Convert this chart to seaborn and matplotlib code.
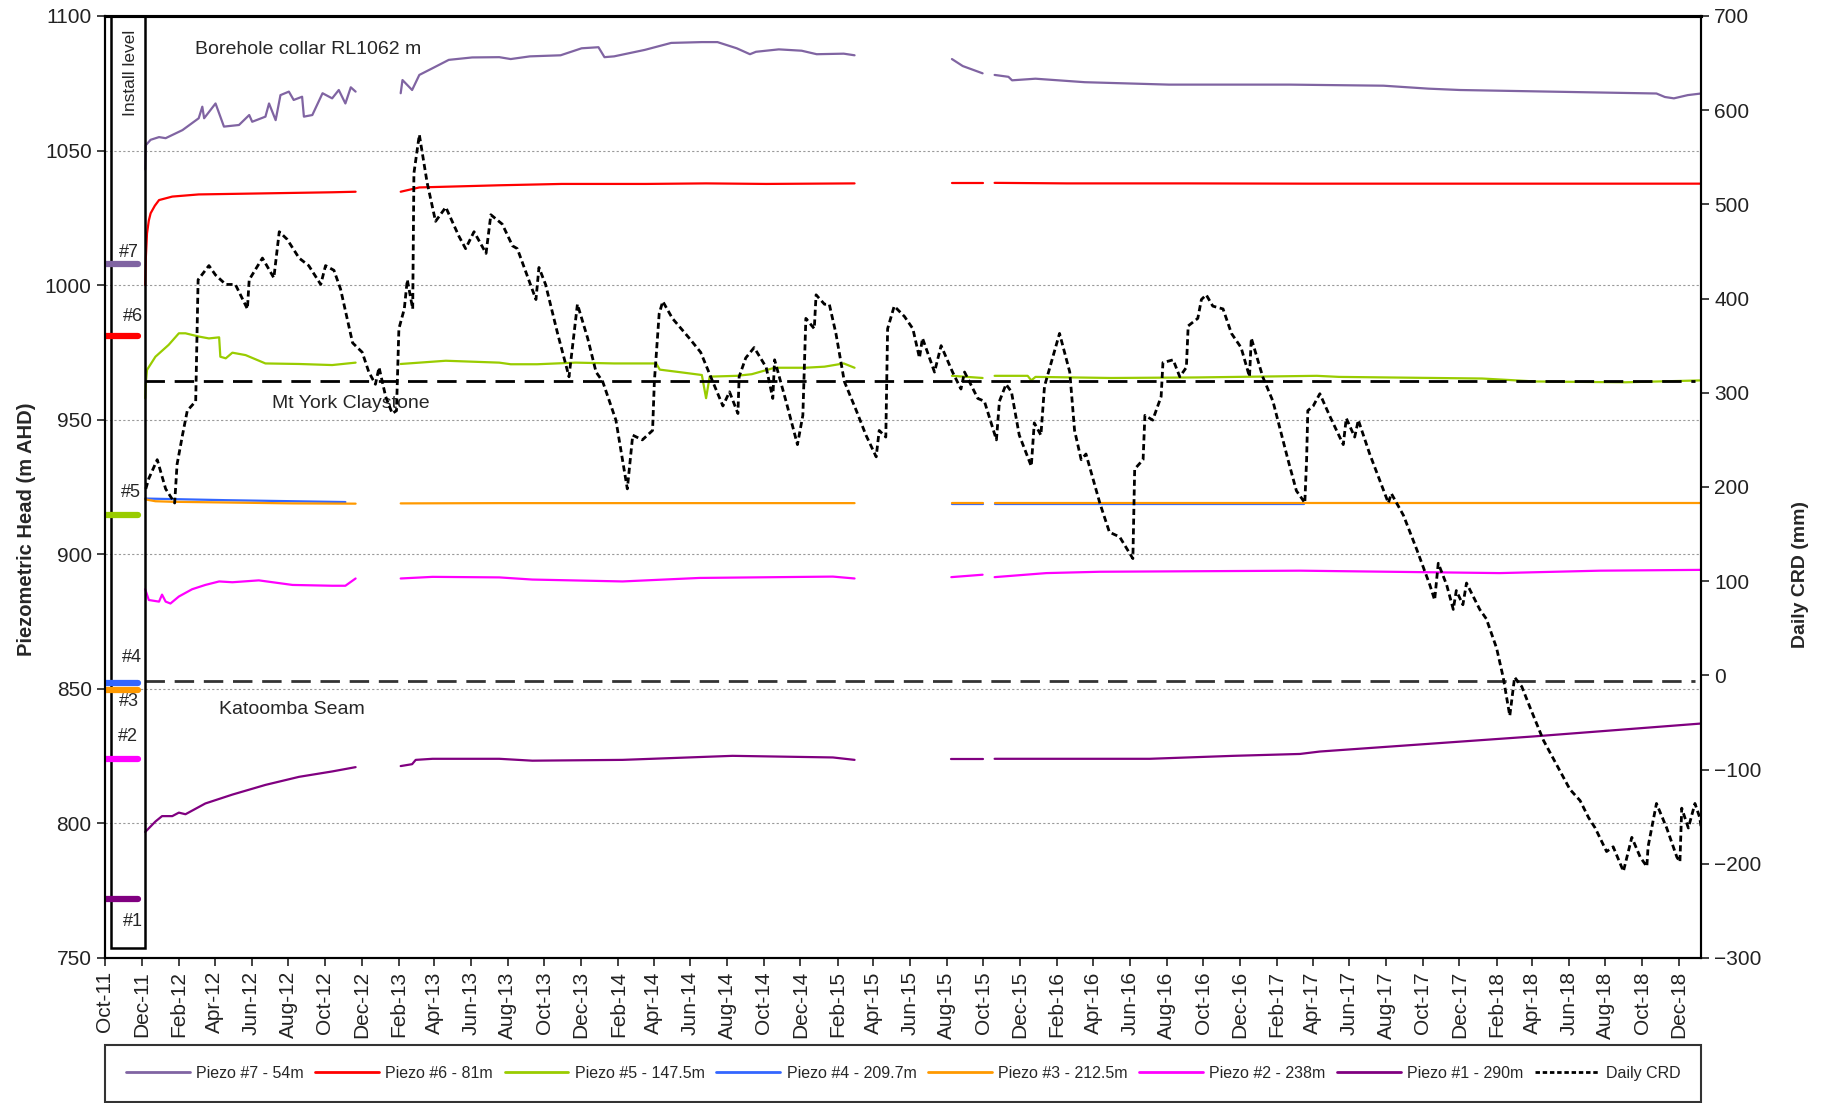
import numpy as np
import pandas as pd
import matplotlib
matplotlib.use("Agg")
import matplotlib.pyplot as plt
import matplotlib.dates as mdates
import seaborn as sns
from matplotlib.patches import Rectangle
from matplotlib.lines import Line2D

nan = np.nan

## Data (days counted from 1-Oct-2011, nan = logger gap)
START = pd.Timestamp("2011-10-01")
END_DAY = 2655
COLLAR_RL = 1062

piezo_names = ["Piezo #7 - 54m", "Piezo #6 - 81m", "Piezo #5 - 147.5m", "Piezo #4 - 209.7m",
               "Piezo #3 - 212.5m", "Piezo #2 - 238m", "Piezo #1 - 290m"]
piezo_tags = ["#7", "#6", "#5", "#4", "#3", "#2", "#1"]
piezo_depths = [54, 81, 147.5, 209.7, 212.5, 238, 290]
piezo_colors = ["#8064a2", "#ff0000", "#99cc00", "#3366ff", "#ff9900", "#ff00ff", "#800080"]

p7_day = [67, 68, 76, 90, 101, 129, 156, 162, 165, 184, 198, 223, 240, 245, 267, 273, 284, 292, 306, 314,
          328, 331, 345, 362, 378, 389, 400, 409, 417, nan,
          492, 495, 511, 523, 545, 572, 611, 656, 675, 707, 758, 793, 821, 831, 847, 898, 942, 993, 1019,
          1051, 1073, 1083, 1121, 1159, 1184, 1229, 1247, nan,
          1409, 1427, 1460, nan,
          1480, 1503, 1509, 1548, 1630, 1770, 1971, 2127, 2202, 2254, 2454, 2581, 2595, 2610, 2633, 2655]
p7_head = [1043, 1052, 1054, 1055, 1054.6, 1057.6, 1062, 1066.3, 1062, 1067.5, 1058.9, 1059.5, 1063.2, 1060.7,
           1062.6, 1067.5, 1061.3, 1070.6, 1071.9, 1068.8, 1070, 1062.6, 1063.2, 1071.3, 1069.4, 1072.5,
           1067.5, 1073.5, 1071.9, nan,
           1071.3, 1076.2, 1072.5, 1078.1, 1080.6, 1083.7, 1084.6, 1084.7, 1084.0, 1085, 1085.4, 1088, 1088.4,
           1084.7, 1085, 1087.4, 1090, 1090.3, 1090.3, 1088, 1085.8, 1086.7, 1087.6, 1087.1, 1085.8, 1086,
           1085.4, nan,
           1084, 1081.4, 1078.7, nan,
           1078.1, 1077.4, 1076.1, 1076.7, 1075.4, 1074.5, 1074.5, 1074.1, 1073, 1072.5, 1071.7, 1071.2,
           1069.9, 1069.4, 1070.6, 1071.2]

p6_day = [67, 68, 70, 73, 76, 83, 90, 112, 156, 267, 378, 417, nan,
          492, 523, 656, 760, 900, 1000, 1100, 1247, nan,
          1409, 1460, nan,
          1480, 1600, 1800, 2000, 2200, 2400, 2655]
p6_head = [1000, 1010, 1019.2, 1024, 1026.7, 1029.5, 1031.6, 1032.9, 1033.7, 1034.1, 1034.5, 1034.7, nan,
           1034.7, 1036.3, 1037.1, 1037.6, 1037.6, 1037.8, 1037.6, 1037.8, nan,
           1038.1, 1038.1, nan,
           1038, 1037.8, 1037.8, 1037.7, 1037.7, 1037.7, 1037.7]

p5_day = [67, 68, 70, 84, 106, 123, 134, 156, 173, 190, 192, 201, 212, 234, 267, 323, 378, 417, nan,
          492, 567, 656, 675, 719, 783, 847, 917, 923, 955, 993, 1000, 1006, 1051, 1076, 1114, 1165, 1197,
          1229, 1247, nan,
          1409, 1460, nan,
          1480, 1535, 1541, 1548, 1674, 1816, 2016, 2053, 2291, 2380, 2529, 2655]
p5_head = [958, 963.5, 968.5, 973.4, 977.8, 982.1, 982.1, 980.9, 980.2, 980.6, 973.4, 972.8, 974.9, 974,
           970.9, 970.7, 970.3, 971.2, nan,
           970.7, 971.9, 971.2, 970.6, 970.6, 971.2, 970.9, 970.9, 968.6, 967.7, 966.6, 958, 966, 966.3,
           966.9, 969.3, 969.3, 969.7, 970.9, 969.3, nan,
           966.3, 965.5, nan,
           966.3, 966.3, 964.6, 965.9, 965.5, 965.7, 966.3, 965.9, 965.3, 964.2, 963.9, 964.6]

p4_day = [67, 200, 400, nan, 1409, 1460, nan, 1480, 1995]
p4_head = [920.7, 920.1, 919.4, nan, 918.5, 918.5, nan, 918.5, 918.5]

p3_day = [67, 84, 112, 312, 417, nan, 492, 656, 1247, nan, 1409, 1460, nan, 1480, 2655]
p3_head = [920.4, 919.7, 919.5, 918.9, 918.8, nan, 918.9, 919.0, 919.0, nan, 919.1, 919.1, nan, 919.1, 919.1]

p2_day = [67, 73, 90, 95, 101, 109, 123, 145, 167, 190, 212, 256, 312, 378, 400, 417, nan,
          492, 545, 656, 711, 861, 989, 1211, 1247, nan,
          1408, 1460, nan,
          1480, 1566, 1655, 1988, 2320, 2487, 2655]
p2_head = [887, 883, 882.4, 885, 882.4, 881.7, 884.3, 887, 888.6, 889.9, 889.6, 890.3, 888.6, 888.3, 888.3,
           891, nan,
           891, 891.6, 891.4, 890.6, 889.9, 891.2, 891.7, 891, nan,
           891.5, 892.4, nan,
           891.5, 893, 893.5, 893.9, 893, 893.9, 894.2]

p1_day = [67, 84, 95, 112, 123, 134, 167, 212, 267, 323, 378, 417, nan,
          492, 511, 517, 545, 656, 711, 861, 1044, 1211, 1247, nan,
          1408, 1460, nan,
          1480, 1738, 1877, 1988, 2021, 2376, 2655]
p1_head = [796.8, 800.7, 802.7, 802.7, 804, 803.4, 807.4, 810.7, 814.3, 817.3, 819.3, 820.9, nan,
           821.3, 822, 823.6, 824, 824, 823.3, 823.6, 825.1, 824.5, 823.6, nan,
           824, 824, nan,
           824, 824, 825.1, 825.8, 826.7, 832.3, 837.1]

crd_day = [68, 73, 87, 101, 116, 120, 129, 137, 151, 155, 173, 184, 201, 217, 237, 240, 262, 281, 290, 303,
           323, 339, 359, 367, 381, 392, 412, 428, 439, 450, 456, 467, 478, 485, 489, 498, 503, 512, 514,
           523, 536, 550, 567, 589, 600, 614, 634, 642, 661, 678, 686, 717, 722, 733, 753, 772, 786, 803,
           817, 828, 850, 869, 878, 894, 911, 914, 922, 928, 944, 972, 991, 1011, 1028, 1039, 1053, 1055,
           1066, 1080, 1100, 1111, 1114, 1133, 1152, 1161, 1166, 1180, 1183, 1197, 1205, 1216, 1230, 1250,
           1266, 1283, 1288, 1299, 1302, 1313, 1330, 1344, 1355, 1360, 1380, 1391, 1410, 1424, 1430, 1452,
           1463, 1483, 1488, 1499, 1508, 1521, 1541, 1546, 1557, 1563, 1571, 1588, 1605, 1613, 1624, 1632,
           1655, 1671, 1688, 1710, 1713, 1727, 1730, 1743, 1757, 1760, 1777, 1788, 1799, 1802, 1818, 1824,
           1832, 1843, 1860, 1874, 1890, 1904, 1907, 1926, 1943, 1968, 1982, 1993, 1996, 1999, 2001, 2010,
           2021, 2037, 2060, 2065, 2079, 2085, 2104, 2135, 2140, 2160, 2182, 2204, 2212, 2218, 2232, 2243,
           2248, 2259, 2265, 2287, 2298, 2315, 2326, 2337, 2345, 2357, 2370, 2393, 2415, 2437, 2454, 2468,
           2479, 2498, 2509, 2526, 2540, 2554, 2565, 2567, 2581, 2598, 2615, 2620, 2623, 2634, 2645, 2653,
           2655]
crd_mm = [198, 209, 229, 198, 183, 224, 255, 281, 291, 420, 435, 425, 415, 415, 389, 420, 443, 422, 471, 463,
          443, 435, 415, 435, 430, 410, 353, 343, 322, 309, 327, 296, 278, 281, 368, 389, 420, 389, 533,
          574, 523, 482, 497, 466, 453, 471, 448, 489, 479, 456, 453, 399, 433, 415, 363, 317, 394, 358,
          322, 312, 271, 198, 255, 250, 260, 312, 384, 397, 379, 358, 343, 312, 286, 301, 278, 317,
          337, 348, 327, 294, 335, 291, 245, 276, 379, 368, 404, 394, 394, 363, 312, 281,
          255, 232, 260, 253, 368, 392, 381, 368, 337, 358, 322, 350, 322, 304, 322, 294,
          291, 250, 291, 309, 301, 255, 222, 268, 255, 307, 325, 363, 322, 260, 229, 235,
          183, 152, 147, 124, 219, 229, 276, 271, 296, 332, 335, 317, 327, 371, 379, 399,
          404, 392, 389, 363, 348, 317, 358, 317, 291, 229, 196, 186, 183, 229, 281, 286,
          299, 276, 245, 273, 253, 271, 235, 183, 193, 170, 134, 96, 80, 119, 96, 70,
          90, 75, 98, 70, 60, 29, -2, -43, -2, -12, -33, -69, -95, -121, -133, -151,
          -162, -187, -182, -208, -172, -193, -203, -182, -136, -162, -193, -198, -141, -162, -136, -151,
          -160]

horizon_names = ["Mt York Claystone", "Katoomba Seam"]
horizon_levels = [964.4, 853]
horizon_colors = ["black", "#333333"]

piezo_days = [p7_day, p6_day, p5_day, p4_day, p3_day, p2_day, p1_day]
piezo_heads = [p7_head, p6_head, p5_head, p4_head, p3_head, p2_head, p1_head]


def to_num(day):
    return mdates.date2num(START + pd.Timedelta(days=float(day)))


def series_frame(name, days, vals):
    d = pd.DataFrame({"day": days, "value": vals})
    d["seg"] = d["value"].isna().cumsum()
    d = d.dropna().copy()
    d["date"] = START + pd.to_timedelta(d["day"], unit="D")
    d["series"] = name
    d["unit"] = name + "_" + d["seg"].astype(str)
    return d


piezo = pd.concat([series_frame(n, dd, hh) for n, dd, hh in zip(piezo_names, piezo_days, piezo_heads)],
                  ignore_index=True)
crd = pd.DataFrame({"date": START + pd.to_timedelta(crd_day, unit="D"), "crd": crd_mm})

## Plot
sns.set_style("ticks")
plt.rcParams["font.family"] = ["Liberation Sans", "DejaVu Sans"]

fig = plt.figure(figsize=(18.28, 11.03), dpi=100)
ax = fig.add_axes([0.0574, 0.1315, 0.8731, 0.8540])

sns.lineplot(data=piezo, x="date", y="value", hue="series", units="unit", estimator=None,
             hue_order=piezo_names, palette=dict(zip(piezo_names, piezo_colors)),
             lw=1.6, legend=False, sort=False, ax=ax)

x0 = to_num(66)
x1 = to_num(2645)
for name, lev, col in zip(horizon_names, horizon_levels, horizon_colors):
    ax.hlines(lev, x0, x1, colors=col, lw=2, linestyles=(0, (7, 3.5)), zorder=3)

ax.set_xlim(to_num(0), to_num(END_DAY))
ax.set_ylim(750, 1100)
ax.set_yticks(range(750, 1101, 50))
ax.yaxis.grid(True, color="#9a9a9a", linestyle=(0, (2, 2)), lw=0.8)
ax.xaxis.grid(False)
ax.xaxis.set_major_locator(mdates.MonthLocator(bymonth=[2, 4, 6, 8, 10, 12]))
ax.xaxis.set_major_formatter(mdates.DateFormatter("%b-%y"))
ax.tick_params(axis="x", rotation=90, labelsize=15, length=6, width=1.2, colors="#222222")
ax.tick_params(axis="y", labelsize=15, length=6, width=1.2, colors="#222222")
ax.set_xlabel("")
ax.set_ylabel("Piezometric Head (m AHD)", fontsize=14.5, fontweight="bold")
ax.yaxis.set_label_coords(-0.043, 0.455)
for s in ax.spines.values():
    s.set_color("black")
    s.set_linewidth(1.5)
ax.spines["top"].set_linewidth(2.2)

# install level box and markers
ax.add_patch(Rectangle((to_num(9.5), 753.7), to_num(66.5) - to_num(9.5), 1100 - 753.7,
                       fill=False, edgecolor="black", lw=1.8, zorder=4, clip_on=False))
ax.text(to_num(43), 1095, "Install level", rotation=90, ha="center", va="top", fontsize=12.5)
tag_offsets = [4, 7.5, 8.6, 9.2, -4.3, 8.3, -8.4]
tag_days = [40, 47, 43, 45, 40, 39, 46]
for tag, dep, col, off, td in zip(piezo_tags, piezo_depths, piezo_colors, tag_offsets, tag_days):
    lev = COLLAR_RL - dep
    ax.hlines(lev, to_num(2), to_num(55), colors=col, lw=4.5, zorder=5, capstyle="round")
    ax.text(to_num(td), lev + off, tag, ha="center", va="center", fontsize=13)

ax.text(to_num(150), 1087.7, "Borehole collar RL1062 m", ha="left", va="center", fontsize=14)
ax.text(to_num(278), 956, horizon_names[0], ha="left", va="center", fontsize=14)
ax.text(to_num(190), 842.5, horizon_names[1], ha="left", va="center", fontsize=14)

# daily CRD on right axis
ax2 = ax.twinx()
sns.lineplot(data=crd, x="date", y="crd", color="black", lw=2, linestyle=(0, (2.2, 1.3)),
             estimator=None, sort=False, ax=ax2)
ax2.set_ylim(-300, 700)
ax2.set_yticks(range(-300, 701, 100))
ax2.set_xlim(to_num(0), to_num(END_DAY))
ax2.tick_params(axis="y", labelsize=15, length=6, width=1.2, colors="#222222")
ax2.set_ylabel("Daily CRD (mm)", fontsize=14, fontweight="bold")
ax2.yaxis.set_label_coords(1.057, 0.407)
for s in ax2.spines.values():
    s.set_color("black")
    s.set_linewidth(1.5)
ax2.spines["top"].set_linewidth(2.2)

# legend
handles = [Line2D([], [], color=c, lw=2) for c in piezo_colors]
handles.append(Line2D([], [], color="black", lw=2, linestyle=(0, (1.6, 1))))
labels = piezo_names + ["Daily CRD"]
leg = fig.legend(handles, labels, loc="center", bbox_to_anchor=(0.0574, 0.0, 0.8731, 0.0535),
                 mode="expand", ncol=8, fontsize=11.5, frameon=True, fancybox=False,
                 edgecolor="black", borderpad=1.3, borderaxespad=0, handlelength=4,
                 handletextpad=0.4)
leg.get_frame().set_linewidth(1.5)

fig.savefig("out.png", dpi=100)
